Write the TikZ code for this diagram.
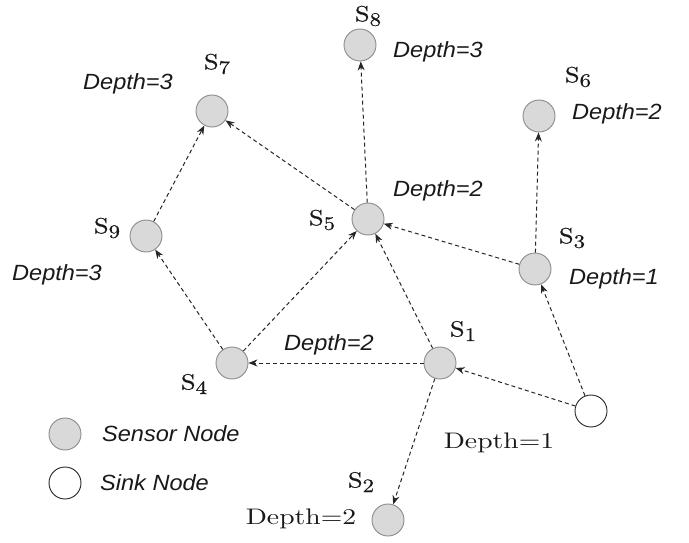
\documentclass[tikz,border=0pt]{standalone}
\usepackage{fontspec}
\newfontfamily\lsans[FakeStretch=1.07]{Liberation Sans}
\newfontfamily\lmdep{lmroman10-regular}[Extension=.otf,FakeStretch=1.23]
\newfontfamily\lmS{lmroman10-regular}[Extension=.otf,FakeStretch=1.2,FakeBold=0.6]
\usetikzlibrary{arrows.meta}
\newcommand{\snode}[1]{{\lmS\fontsize{22}{26}\selectfont S\raisebox{-4.5pt}{\fontsize{19}{22}\selectfont #1}}}
\tikzset{
  sensor/.style={circle,draw=black!45,fill=black!15,line width=0.9pt,minimum size=32pt,inner sep=0pt},
  sink/.style={circle,draw=black!85,fill=white,line width=0.9pt,minimum size=32pt,inner sep=0pt},
  link/.style={draw=black!85,line width=1pt,dash pattern=on 4pt off 3pt,-{Stealth[length=9pt,width=7pt]}},
  dlab/.style={font=\lsans\itshape\fontsize{22}{26}\selectfont,text=black!90,inner sep=0pt},
  slab/.style={inner sep=0pt,text=black!90},
  serlab/.style={font=\lmdep\fontsize{22.5}{27}\selectfont,text=black!90,inner sep=0pt}
}
\begin{document}
\begin{tikzpicture}[x=1pt,y=-1pt]
\path[use as bounding box,fill=white] (0,0) rectangle (689,543);
% nodes
\node[sensor] (s7) at (212,111) {};
\node[sensor] (s9) at (146,236) {};
\node[sensor] (s8) at (360,45) {};
\node[sensor] (s6) at (539,116) {};
\node[sensor] (s5) at (368,219) {};
\node[sensor] (s3) at (535,269) {};
\node[sensor] (s4) at (232,363) {};
\node[sensor] (s1) at (440,363) {};
\node[sink] (sk) at (591,411) {};
\node[sensor] (s2) at (388,520) {};
\node[sensor] (ls) at (65,434) {};
\node[sink] (lk) at (65,483) {};
% labels
\node[slab] (l7) at (217,64) {\snode{7}};
\node[dlab] (d7) at (128,84) {Depth=3};
\node[slab] (l9) at (107,228) {\snode{9}};
\node[dlab] (d9) at (57,275) {Depth=3};
\node[slab] (l5) at (322,220) {\snode{5}};
\node[dlab] (d5) at (438,191) {Depth=2};
\node[slab] (l8) at (368,16) {\snode{8}};
\node[dlab] (d8) at (438,52) {Depth=3};
\node[slab] (l6) at (578,77) {\snode{6}};
\node[dlab] (d6) at (617,114) {Depth=2};
\node[slab] (l3) at (572,238) {\snode{3}};
\node[dlab] (d3) at (614,279) {Depth=1};
\node[slab] (l4) at (194,384) {\snode{4}};
\node[dlab] (d4) at (329,345) {Depth=2};
\node[slab] (l1) at (463,331) {\snode{1}};
\node[serlab] (d1) at (499,443) {Depth=1};
\node[slab] (l2) at (361,482) {\snode{2}};
\node[serlab] (d2) at (301,519) {Depth=2};
\node[dlab,anchor=west] (tls) at (102,434) {Sensor Node};
\node[dlab,anchor=west] (tlk) at (100,483) {Sink Node};
% links
\draw[link] (sk) -- (s1);
\draw[link] (sk) -- (s3);
\draw[link] (s3) -- (s6);
\draw[link] (s3) -- (s5);
\draw[link] (s1) -- (s5);
\draw[link] (s1) -- (s4);
\draw[link] (s1) -- (s2);
\draw[link] (s4) -- (s5);
\draw[link] (s4) -- (s9);
\draw[link] (s9) -- (s7);
\draw[link] (s5) -- (s7);
\draw[link] (s5) -- (s8);
\end{tikzpicture}
\end{document}
